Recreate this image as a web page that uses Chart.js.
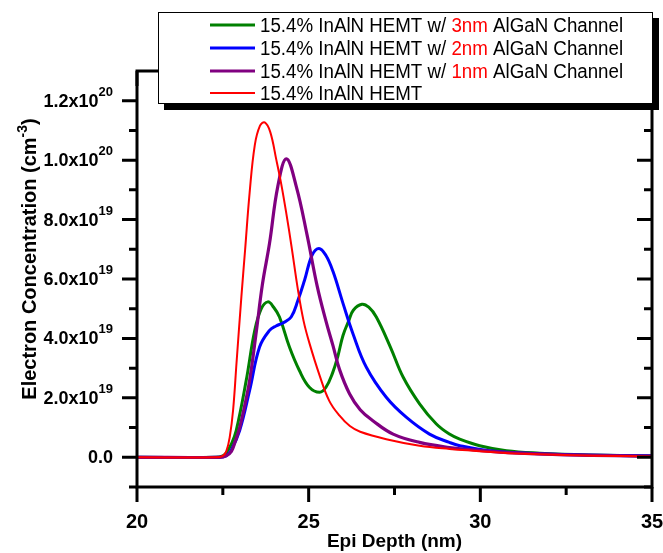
<!DOCTYPE html>
<html>
<head>
<meta charset="utf-8">
<script src="https://cdn.jsdelivr.net/npm/chart.js@4.4.1/dist/chart.umd.min.js"></script>
<style>
html,body{margin:0;padding:0;background:#ffffff;}
canvas{display:block;}
</style>
</head>
<body>
<canvas id="c" width="663" height="553"></canvas>
<script>
// ---- Data (electron concentration in units of 1e19 cm^-3, depth in nm) ----
const seriesNames = [
  '15.4% InAlN HEMT w/ 3nm AlGaN Channel',
  '15.4% InAlN HEMT w/ 2nm AlGaN Channel',
  '15.4% InAlN HEMT w/ 1nm AlGaN Channel',
  '15.4% InAlN HEMT'
];
const seriesColors = ['#008000', '#0000FF', '#800080', '#FF0000'];

const depth3nm = [20, 22.3, 22.5, 22.6, 22.75, 22.89, 23.18, 23.43, 23.62, 23.81, 23.98, 24.15, 24.44, 24.73, 25.02, 25.32, 25.5, 25.7, 25.85, 26.0, 26.17, 26.3, 26.55, 26.75, 26.97, 27.38, 27.75, 28.23, 28.72, 29.1, 29.4, 29.98, 30.76, 31.73, 33.18, 35];
const conc3nm  = [0, 0, 0.05, 0.15, 0.45, 0.9, 2.58, 4.27, 5.0, 5.23, 5.05, 4.72, 3.71, 2.92, 2.36, 2.19, 2.35, 2.85, 3.4, 4.1, 4.6, 4.95, 5.15, 5.05, 4.72, 3.71, 2.7, 1.8, 1.12, 0.78, 0.61, 0.39, 0.22, 0.14, 0.08, 0.04];

const depth2nm = [20, 22.4, 22.6, 22.75, 22.99, 23.28, 23.57, 23.86, 24.05, 24.25, 24.49, 24.69, 24.88, 25.1, 25.3, 25.5, 25.71, 26.0, 26.29, 26.68, 27.26, 27.85, 28.52, 29.1, 29.4, 30.27, 31.7, 33, 35];
const conc2nm  = [0, 0, 0.05, 0.25, 0.9, 2.25, 3.71, 4.27, 4.42, 4.52, 4.72, 5.29, 5.96, 6.8, 7.03, 6.8, 6.25, 5.18, 4.16, 3.03, 2.02, 1.34, 0.78, 0.5, 0.39, 0.22, 0.12, 0.08, 0.05];

const depth1nm = [20, 22.4, 22.6, 22.75, 22.85, 22.99, 23.13, 23.28, 23.48, 23.65, 23.86, 24.1, 24.35, 24.64, 24.95, 25.25, 25.5, 25.71, 25.9, 26.19, 26.5, 26.87, 27.46, 28.23, 29.1, 29.8, 31, 33, 35];
const conc1nm  = [0, 0, 0.05, 0.2, 0.5, 1.0, 1.7, 2.58, 4.27, 5.8, 7.2, 9.11, 10.04, 9.11, 7.5, 5.75, 4.6, 3.75, 2.95, 2.14, 1.6, 1.23, 0.78, 0.5, 0.33, 0.25, 0.15, 0.07, 0.04];

const depthRef = [20, 22.3, 22.5, 22.6, 22.7, 22.8, 22.9, 23.04, 23.15, 23.28, 23.43, 23.58, 23.72, 23.88, 24.06, 24.2, 24.35, 24.5, 24.69, 24.85, 25.02, 25.32, 25.6, 25.9, 26.2, 26.5, 27.26, 28.23, 29.1, 29.8, 31, 33, 35];
const concRef  = [0, 0, 0.05, 0.2, 0.67, 1.6, 3.2, 5.4, 7.0, 8.9, 10.5, 11.15, 11.27, 10.95, 10.0, 9.2, 8.2, 7.1, 5.62, 4.6, 3.85, 2.75, 1.9, 1.4, 1.05, 0.86, 0.61, 0.39, 0.28, 0.22, 0.13, 0.06, 0.03];

const xTickValues = [20, 25, 30, 35];
const xTickLabels = ['20', '25', '30', '35'];
const xMinorTicks = [22.5, 27.5, 32.5];
const yTickValues = [0, 2, 4, 6, 8, 10, 12];
const yTickLabels = ['0.0', '2.0x10', '4.0x10', '6.0x10', '8.0x10', '1.0x10', '1.2x10'];
const yTickExponents = ['', '19', '19', '19', '19', '20', '20'];
const yMinorTicks = [1, 3, 5, 7, 9, 11];

const xTitle = 'Epi Depth (nm)';
const yTitle = 'Electron Concentration (cm';
const yTitleSup = '-3';
const yTitleEnd = ')';

function pts(xs, ys) { return xs.map((x, i) => ({x: x, y: ys[i]})); }

const FONT = '"Liberation Sans", Arial, Helvetica, sans-serif';

const axesPlugin = {
  id: 'originAxes',
  afterDatasetsDraw(chart) {
    const ctx = chart.ctx;
    const a = chart.chartArea;
    const xs = chart.scales.x, ys = chart.scales.y;
    ctx.save();
    ctx.strokeStyle = '#000';
    ctx.lineCap = 'butt';
    ctx.lineWidth = 3;
    ctx.strokeRect(a.left, a.top, a.right - a.left, a.bottom - a.top);
    ctx.beginPath();
    xTickValues.forEach(v => {
      const p = xs.getPixelForValue(v);
      ctx.moveTo(p, a.bottom); ctx.lineTo(p, a.bottom + 15);
      ctx.moveTo(p, a.top); ctx.lineTo(p, a.top + 15);
    });
    xMinorTicks.forEach(v => {
      const p = xs.getPixelForValue(v);
      ctx.moveTo(p, a.bottom); ctx.lineTo(p, a.bottom + 8);
      ctx.moveTo(p, a.top); ctx.lineTo(p, a.top + 8);
    });
    yTickValues.forEach(v => {
      const p = ys.getPixelForValue(v);
      ctx.moveTo(a.left - 15, p); ctx.lineTo(a.left, p);
      ctx.moveTo(a.right - 15, p); ctx.lineTo(a.right, p);
    });
    yMinorTicks.concat([-1]).forEach(v => {
      const p = ys.getPixelForValue(v);
      ctx.moveTo(a.left - 8, p); ctx.lineTo(a.left, p);
      ctx.moveTo(a.right - 8, p); ctx.lineTo(a.right, p);
    });
    ctx.stroke();

    ctx.fillStyle = '#000';
    ctx.font = 'bold 20px ' + FONT;
    ctx.textAlign = 'center';
    ctx.textBaseline = 'alphabetic';
    xTickValues.forEach((v, i) => {
      ctx.fillText(xTickLabels[i], xs.getPixelForValue(v), 528);
    });

    const right = 113;
    yTickValues.forEach((v, i) => {
      const p = ys.getPixelForValue(v);
      const sup = yTickExponents[i];
      ctx.font = 'bold 13px ' + FONT;
      const sw = sup ? ctx.measureText(sup).width : 0;
      ctx.textAlign = 'right';
      if (sup) ctx.fillText(sup, right, p - 5);
      ctx.font = 'bold 18px ' + FONT;
      ctx.fillText(yTickLabels[i], right - sw, p + 6);
    });

    ctx.font = 'bold 19px ' + FONT;
    ctx.textAlign = 'center';
    ctx.fillText(xTitle, (a.left + a.right) / 2, 547);

    ctx.save();
    ctx.font = 'bold 20px ' + FONT;
    const w1 = ctx.measureText(yTitle).width;
    const w3 = ctx.measureText(yTitleEnd).width;
    ctx.font = 'bold 14px ' + FONT;
    const w2 = ctx.measureText(yTitleSup).width;
    const total = w1 + w2 + w3;
    ctx.translate(36, 259 + total / 2);
    ctx.rotate(-Math.PI / 2);
    ctx.textAlign = 'left';
    ctx.font = 'bold 20px ' + FONT;
    ctx.fillText(yTitle, 0, 0);
    ctx.font = 'bold 14px ' + FONT;
    ctx.fillText(yTitleSup, w1, -9);
    ctx.font = 'bold 20px ' + FONT;
    ctx.fillText(yTitleEnd, w1 + w2, 0);
    ctx.restore();
    ctx.restore();
  },
  afterDraw(chart) {
    const ctx = chart.ctx;
    ctx.save();
    const bx = 158, by = 12, bw = 495, bh = 92;
    ctx.fillStyle = '#000';
    ctx.fillRect(bx + 6, by + 6, bw, bh);
    ctx.fillStyle = '#fff';
    ctx.fillRect(bx, by, bw, bh);
    ctx.strokeStyle = '#000';
    ctx.lineWidth = 1;
    ctx.strokeRect(bx + 0.5, by + 0.5, bw - 1, bh - 1);
    const baselines = [32, 55, 78, 100];
    const widths = [3, 3, 3, 2];
    const sx = 0.936;
    ctx.font = '20px ' + FONT;
    ctx.textAlign = 'left';
    ctx.textBaseline = 'alphabetic';
    seriesNames.forEach((name, i) => {
      const yb = baselines[i];
      ctx.strokeStyle = seriesColors[i];
      ctx.lineWidth = widths[i];
      ctx.beginPath();
      ctx.moveTo(210, yb - 7); ctx.lineTo(255, yb - 7);
      ctx.stroke();
      const parts = name.split(/(\dnm)/);
      let x = 0;
      ctx.save();
      ctx.translate(260, yb);
      ctx.scale(sx, 1);
      parts.forEach(part => {
        if (!part) return;
        ctx.fillStyle = /^\dnm$/.test(part) ? '#FF0000' : '#000';
        ctx.fillText(part, x, 0);
        x += ctx.measureText(part).width;
      });
      ctx.restore();
    });
    ctx.restore();
  }
};

Chart.defaults.font.family = FONT;

new Chart(document.getElementById('c'), {
  type: 'line',
  data: {
    datasets: [
      {label: seriesNames[3], data: pts(depthRef, concRef), borderColor: seriesColors[3], borderWidth: 2, order: 0},
      {label: seriesNames[2], data: pts(depth1nm, conc1nm), borderColor: seriesColors[2], borderWidth: 3.2, order: 1},
      {label: seriesNames[1], data: pts(depth2nm, conc2nm), borderColor: seriesColors[1], borderWidth: 3, order: 2},
      {label: seriesNames[0], data: pts(depth3nm, conc3nm), borderColor: seriesColors[0], borderWidth: 3, order: 3}
    ]
  },
  options: {
    responsive: false,
    animation: false,
    devicePixelRatio: 1,
    layout: {padding: {left: 137, right: 11, top: 71, bottom: 66}},
    elements: {
      point: {radius: 0, hoverRadius: 0},
      line: {tension: 0.4, fill: false}
    },
    plugins: {legend: {display: false}, tooltip: {enabled: false}},
    scales: {
      x: {type: 'linear', min: 20, max: 35, display: false},
      y: {type: 'linear', min: -1, max: 13, display: false}
    }
  },
  plugins: [axesPlugin]
});
</script>
</body>
</html>
